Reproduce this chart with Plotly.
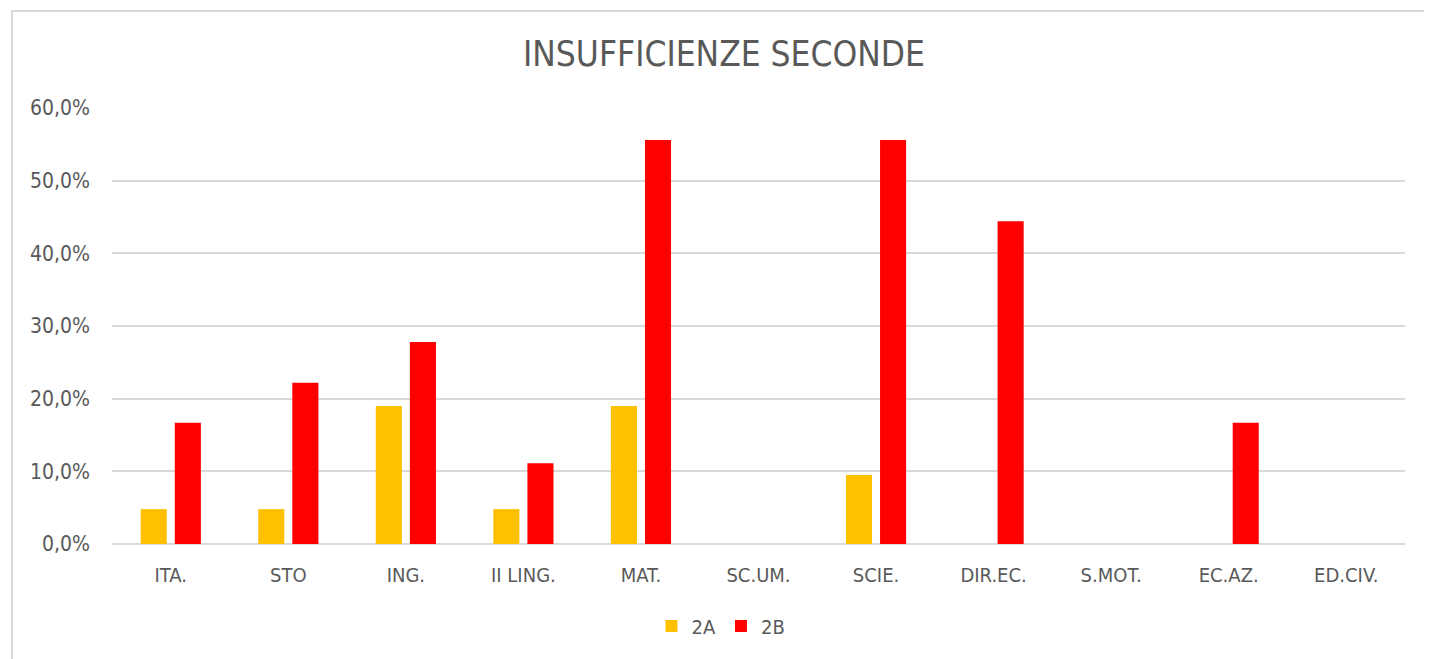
import plotly.graph_objects as go

categories = ["ITA.", "STO", "ING.", "II LING.", "MAT.", "SC.UM.", "SCIE.", "DIR.EC.", "S.MOT.", "EC.AZ.", "ED.CIV."]
series_2a = [0.048, 0.048, 0.190, 0.048, 0.190, 0.0, 0.095, 0.0, 0.0, 0.0, 0.0]
series_2b = [0.167, 0.222, 0.278, 0.111, 0.556, 0.0, 0.556, 0.444, 0.0, 0.167, 0.0]
y_ticks = [0, 0.1, 0.2, 0.3, 0.4, 0.5, 0.6]

OFF = 8  # page body margin
W, H = 1432 - OFF, 659 - OFF
L, T = 112 - OFF, 108 - OFF
R = W - (1405 - OFF)
B = H - (544 - OFF)
pw, ph = W - L - R, H - T - B

fig = go.Figure()
fig.add_trace(go.Bar(name="2A", x=categories, y=series_2a, marker_color="#FFC000", marker_line_width=0))
fig.add_trace(go.Bar(name="2B", x=categories, y=series_2b, marker_color="#FF0000", marker_line_width=0))

font = "DejaVu Sans Condensed, DejaVu Sans"
fig.update_layout(
    width=W, height=H,
    margin=dict(l=L, r=R, t=T, b=B),
    paper_bgcolor="white", plot_bgcolor="white",
    separators=",.",
    barmode="group", bargap=0.42, bargroupgap=0.235,
    title=dict(text="INSUFFICIENZE SECONDE", x=(724 - 112) / pw, xref="paper", xanchor="center",
               y=1 - (54 - OFF) / H, yanchor="middle",
               font=dict(family=font, size=35, color="#595959")),
    font=dict(family=font, color="#595959"),
    showlegend=True,
    legend=dict(orientation="h", x=(721 - 112) / pw, xanchor="center", y=-(626 - 544) / ph, yanchor="middle",
                font=dict(family=font, size=20, color="#595959"), itemwidth=30, traceorder="normal"),
    xaxis=dict(showgrid=False, showline=False, ticks="", tickfont=dict(size=20, color="#595959"),
               ticklabelstandoff=17),
    yaxis=dict(range=[0, 0.6], tickvals=y_ticks, tickformat=".1%", showgrid=True, gridcolor="#D9D9D9",
               gridwidth=1.5, zeroline=True, zerolinecolor="#D9D9D9", zerolinewidth=1.5,
               ticks="", tickfont=dict(size=21, color="#595959"), ticklabelstandoff=21),
)
fig.add_shape(type="rect", xref="paper", yref="paper",
              x0=(12 - 112) / pw, x1=(1460 - 112) / pw, y0=-(700 - 544) / ph, y1=1 + (108 - 11) / ph,
              line=dict(color="#D9D9D9", width=2), fillcolor="rgba(0,0,0,0)", layer="below")
fig.write_html("out.html")
